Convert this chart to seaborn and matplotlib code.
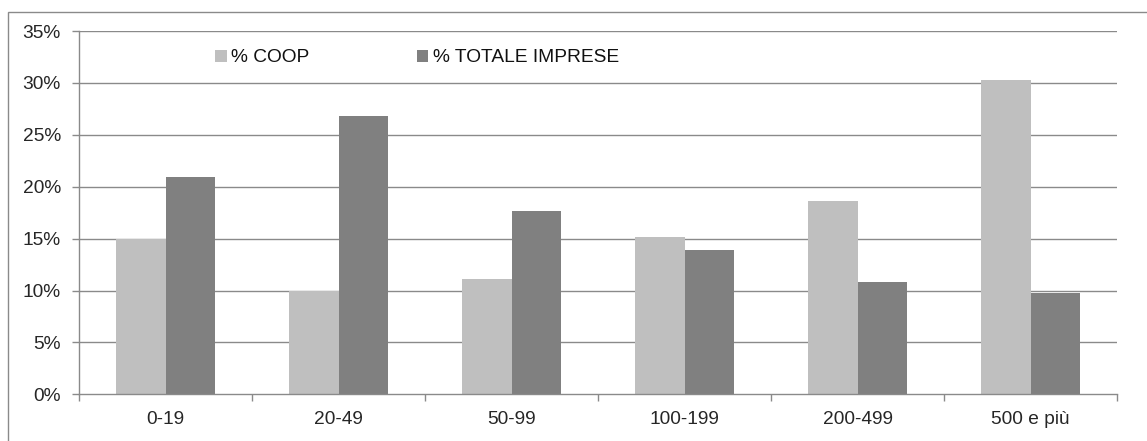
import matplotlib
matplotlib.use("Agg")
import matplotlib.pyplot as plt
from matplotlib.patches import Patch, Rectangle
from matplotlib.ticker import FuncFormatter, FixedLocator
import seaborn as sns
import pandas as pd

# Size classes (number of employees)
classi = ["0-19", "20-49", "50-99", "100-199", "200-499", "500 e più"]
# Share of cooperatives per size class
coop = [0.150, 0.100, 0.111, 0.152, 0.186, 0.303]
# Share of all enterprises per size class
totale = [0.209, 0.268, 0.177, 0.139, 0.108, 0.098]
serie = ["% COOP", "% TOTALE IMPRESE"]
colori = ["#BFBFBF", "#808080"]
yticks = [0, 0.05, 0.10, 0.15, 0.20, 0.25, 0.30, 0.35]

df = pd.DataFrame({
    "classe": classi * 2,
    "valore": coop + totale,
    "serie": [serie[0]] * len(classi) + [serie[1]] * len(classi),
})

sns.set_theme(style="white")
plt.rcParams["font.family"] = ["Liberation Sans", "DejaVu Sans"]
plt.rcParams["text.color"] = "#111111"

W, H = 1147, 441
fig = plt.figure(figsize=(W / 100, H / 100), dpi=100)
fig.patch.set_facecolor("white")

# plot area in pixel units
x0, x1 = 79, 1117
y_top, y_bot = 31, 394.3
ax = fig.add_axes([x0 / W, (H - y_bot) / H, (x1 - x0) / W, (y_bot - y_top) / H])

grid_c = "#8A8A8A"
sns.barplot(data=df, x="classe", y="valore", hue="serie", palette=colori,
            width=0.573, gap=0, saturation=1, ax=ax, legend=False,
            edgecolor="none", linewidth=0, zorder=3)

ax.set_ylim(0, 0.35)
ax.set_xlim(-0.5, len(classi) - 0.5)
ax.set_yticks(yticks)
ax.yaxis.set_major_formatter(FuncFormatter(lambda v, p: f"{v * 100:.0f}%"))
ax.set_xlabel("")
ax.set_ylabel("")

for v in yticks[1:]:
    ax.axhline(v, color=grid_c, linewidth=1.0, zorder=1)

for s in ["top", "right"]:
    ax.spines[s].set_visible(False)
for s in ["left", "bottom"]:
    ax.spines[s].set_color(grid_c)
    ax.spines[s].set_linewidth(1.0)
    ax.spines[s].set_zorder(4)

fs = 13.8
ax.tick_params(axis="y", which="major", direction="out", length=5, width=1.0,
               color=grid_c, pad=8, labelsize=fs, left=True)
ax.tick_params(axis="x", which="major", length=0, pad=12, labelsize=fs, bottom=True)
ax.xaxis.set_minor_locator(FixedLocator([i - 0.5 for i in range(len(classi) + 1)]))
ax.tick_params(axis="x", which="minor", direction="out", length=5, width=1.0,
               color=grid_c, bottom=True)

handles = [Patch(facecolor=c, edgecolor="none", label=l) for c, l in zip(colori, serie)]
fig.legend(handles=handles, loc="center left", ncol=2,
           bbox_to_anchor=(215 / W, 1 - 58 / H), frameon=False, fontsize=fs,
           handlelength=0.6, handleheight=0.62, handletextpad=0.25,
           columnspacing=5.6, borderpad=0, borderaxespad=0)

# outer chart frame
fig.patches.append(Rectangle((8 / W, -0.1), 1.2, (H - 12) / H + 0.1,
                             transform=fig.transFigure, fill=False,
                             edgecolor="#8A8A8A", linewidth=1.0))

fig.savefig("out.png", dpi=100, facecolor="white")
